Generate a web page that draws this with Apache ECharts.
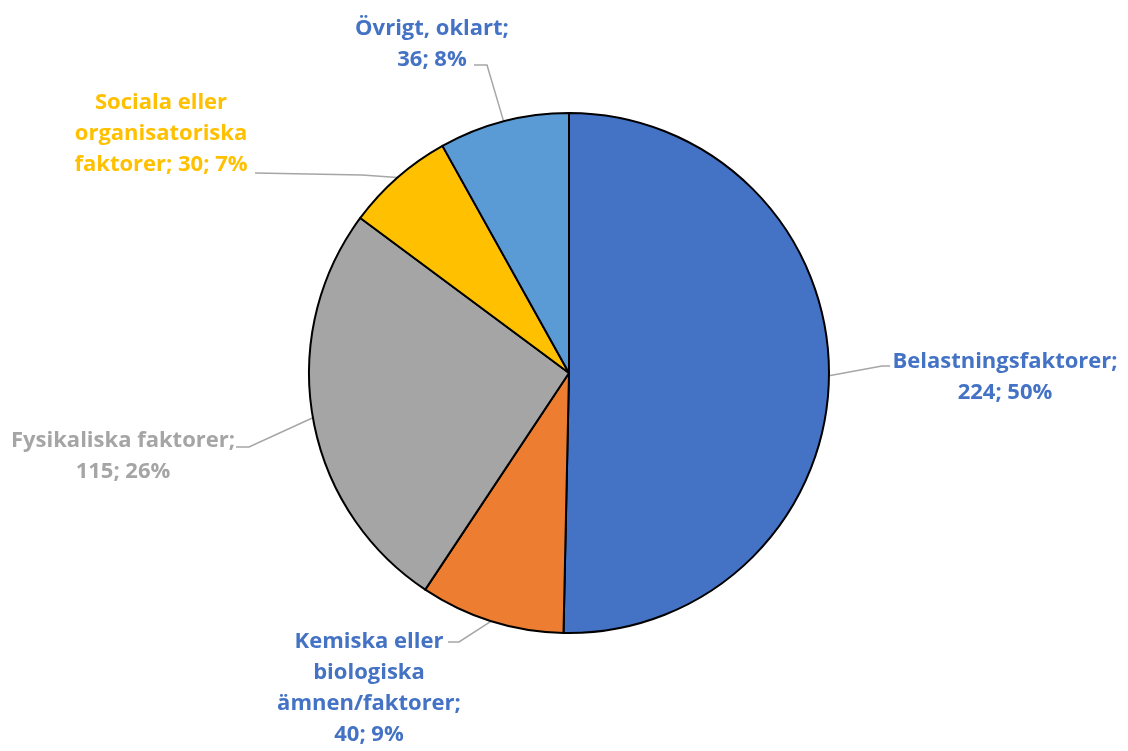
<!DOCTYPE html>
<html>
<head>
<meta charset="utf-8">
<script src="https://cdn.jsdelivr.net/npm/echarts@6/dist/echarts.min.js"></script>
<style>
html, body { margin: 0; padding: 0; background: #fff; }
#pieBox { width: 1128px; height: 751px; }
</style>
</head>
<body>
<div id="pieBox"></div>
<script>
// 数据
var names = ['Belastningsfaktorer', 'Kemiska eller\nbiologiska\nämnen/faktorer', 'Fysikaliska faktorer', 'Sociala eller\norganisatoriska\nfaktorer', 'Övrigt, oklart'];
var values = [224, 40, 115, 30, 36];
var sliceColors = ['#4472C4', '#ED7D31', '#A5A5A5', '#FFC000', '#5B9BD5'];
var labelColors = ['#4472C4', '#4472C4', '#A5A5A5', '#FFC000', '#4472C4'];
var nameSep = ['\n', '\n', '\n', ' ', '\n'];

// label placement: centre of text block, elbow of the leader, end of the leader
var labelPos = [
	{ x: 1005, y: 377, elbow: [882, 366], end: [890, 366] },
	{ x: 369, y: 688, elbow: [459, 642], end: [448, 642] },
	{ x: 123, y: 456, elbow: [249, 447], end: [236, 447] },
	{ x: 161, y: 134, elbow: [362, 175], end: [255, 173] },
	{ x: 432, y: 44, elbow: [487, 65], end: [474, 65] }
];

var pieData = [];
for (var i = 0; i < values.length; i++) {
	pieData.push({
		name : names[i],
		value : values[i],
		itemStyle : { color : sliceColors[i] },
		label : { color : labelColors[i] }
	});
}

var myChart = echarts.init(document.getElementById('pieBox'));
var option = {
	animation : false,
	series : [ {
		type : 'pie',
		center : [569, 373],
		radius : 260,
		startAngle : 90,
		clockwise : true,
		percentPrecision : 0,
		itemStyle : {
			borderColor : '#000',
			borderWidth : 2
		},
		label : {
			show : true,
			position : 'outside',
			fontFamily : 'Open Sans',
			fontWeight : 'bold',
			fontSize : 22,
			lineHeight : 31,
			align : 'center',
			formatter : function(p) {
				return p.name + ';' + nameSep[p.dataIndex] + p.value + '; ' + p.percent + '%';
			}
		},
		labelLine : {
			show : true,
			lineStyle : { color : '#A6A6A6', width : 1.5 }
		},
		labelLayout : function(params) {
			var pos = labelPos[params.dataIndex];
			var start = params.labelLinePoints ? params.labelLinePoints[0] : pos.elbow;
			return {
				x : pos.x,
				y : pos.y,
				align : 'center',
				verticalAlign : 'middle',
				labelLinePoints : [ start, pos.elbow, pos.end ]
			};
		},
		data : pieData
	} ]
};
myChart.setOption(option);
</script>
</body>
</html>
